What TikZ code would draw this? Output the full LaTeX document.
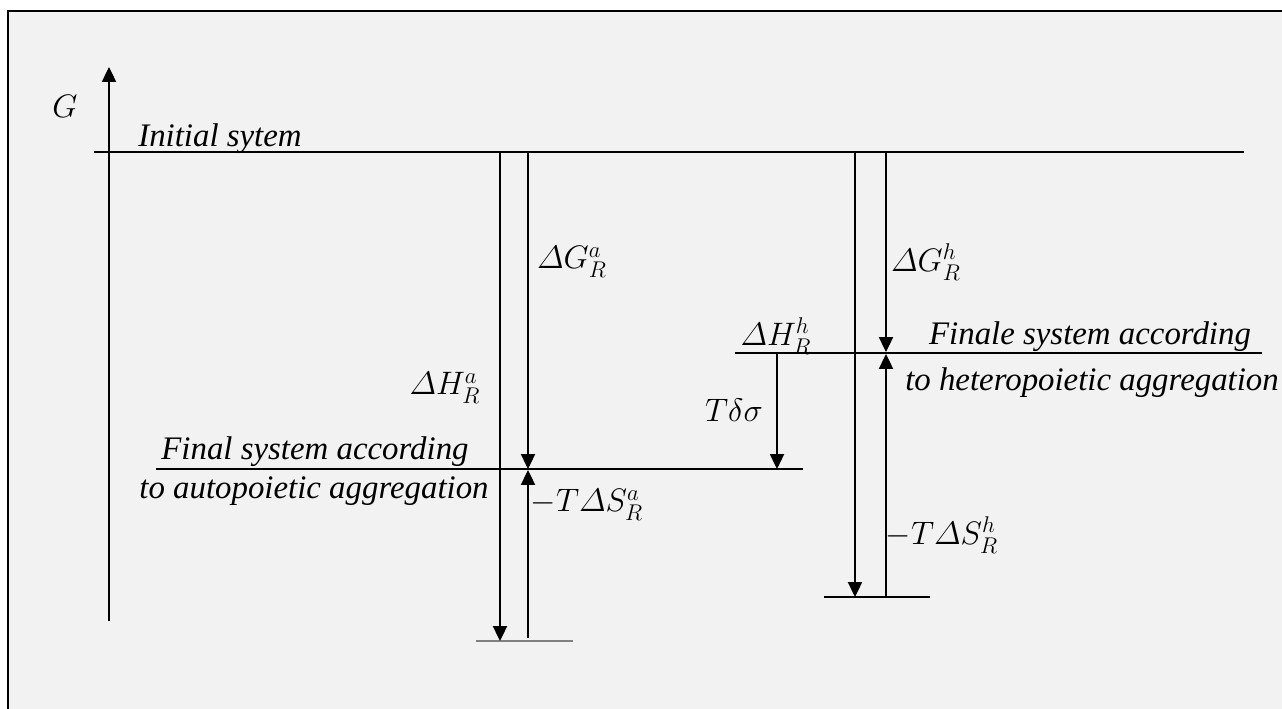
\RequirePackage{fix-cm}
\documentclass[tikz,border=0pt]{standalone}
\usepackage{amsmath}
\usepackage{fontspec}
\setmainfont{Liberation Serif}
\usetikzlibrary{arrows.meta}
\tikzset{
  level/.style={line width=0.75pt},
  flow/.style={line width=1.1pt,-{Triangle[length=8.5pt,width=8pt]}},
  txt/.style={font=\fontsize{18.7}{22}\selectfont\itshape,anchor=base},
  qty/.style={font=\fontsize{18.5}{22}\selectfont,inner sep=1pt},
}
\begin{document}
\begin{tikzpicture}[x=0.02cm,y=-0.02cm]
  \useasboundingbox (0,0) rectangle (1282,709);
  \fill[black!5] (8,11) rectangle (1282,709);
  \draw[line width=1.3pt] (8,709) -- (8,11) -- (1282,11);
  % axis
  \coordinate (g0) at (109,621);
  \coordinate (g1) at (109,67);
  \draw[flow] (g0) -- (g1);
  \node[qty] (glbl) at (65,106) {$G$};
  % levels
  \draw[level] (94,152) coordinate (init0) -- (1244,152) coordinate (init1);
  \node[txt] (initlbl) at (220,147) {Initial sytem};
  \draw[level] (156,469) coordinate (fa0) -- (803,469) coordinate (fa1);
  \node[txt] (falbl1) at (315,460) {Final system according};
  \node[txt] (falbl2) at (314,499) {to autopoietic aggregation};
  \draw[level] (735,353) coordinate (fh0) -- (1262,353) coordinate (fh1);
  \node[txt] (fhlbl1) at (1090,345) {Finale system according};
  \node[txt] (fhlbl2) at (1092,391) {to heteropoietic aggregation};
  \draw[level,gray,line width=1pt] (476,641) coordinate (ba0) -- (573,641) coordinate (ba1);
  \draw[level,line width=1pt] (824,597) coordinate (bh0) -- (930,597) coordinate (bh1);
  % autopoietic
  \coordinate (ha0) at (500,152); \coordinate (ha1) at (500,641);
  \coordinate (ga0) at (528,152); \coordinate (ga1) at (528,469);
  \coordinate (sa0) at (528,638); \coordinate (sa1) at (528,470);
  \draw[flow] (ha0) -- (ha1);
  \draw[flow] (ga0) -- (ga1);
  \draw[flow] (sa0) -- (sa1);
  \node[qty] (halbl) at (445,388) {$\varDelta H_R^a$};
  \node[qty] (galbl) at (572,262) {$\varDelta G_R^a$};
  \node[qty] (salbl) at (587,505) {$-T\varDelta S_R^a$};
  % heteropoietic
  \coordinate (hh0) at (855,152); \coordinate (hh1) at (855,597);
  \coordinate (gh0) at (886,152); \coordinate (gh1) at (886,352);
  \coordinate (sh0) at (886,597); \coordinate (sh1) at (886,354);
  \coordinate (td0) at (777,353); \coordinate (td1) at (777,469);
  \draw[flow] (hh0) -- (hh1);
  \draw[flow] (gh0) -- (gh1);
  \draw[flow] (sh0) -- (sh1);
  \draw[flow] (td0) -- (td1);
  \node[qty] (hhlbl) at (776,336) {$\varDelta H_R^h$};
  \node[qty] (ghlbl) at (926,262) {$\varDelta G_R^h$};
  \node[qty] (shlbl) at (942,535) {$-T\varDelta S_R^h$};
  \node[qty] (tdlbl) at (734,410) {$T\delta\sigma$};
\end{tikzpicture}
\end{document}
